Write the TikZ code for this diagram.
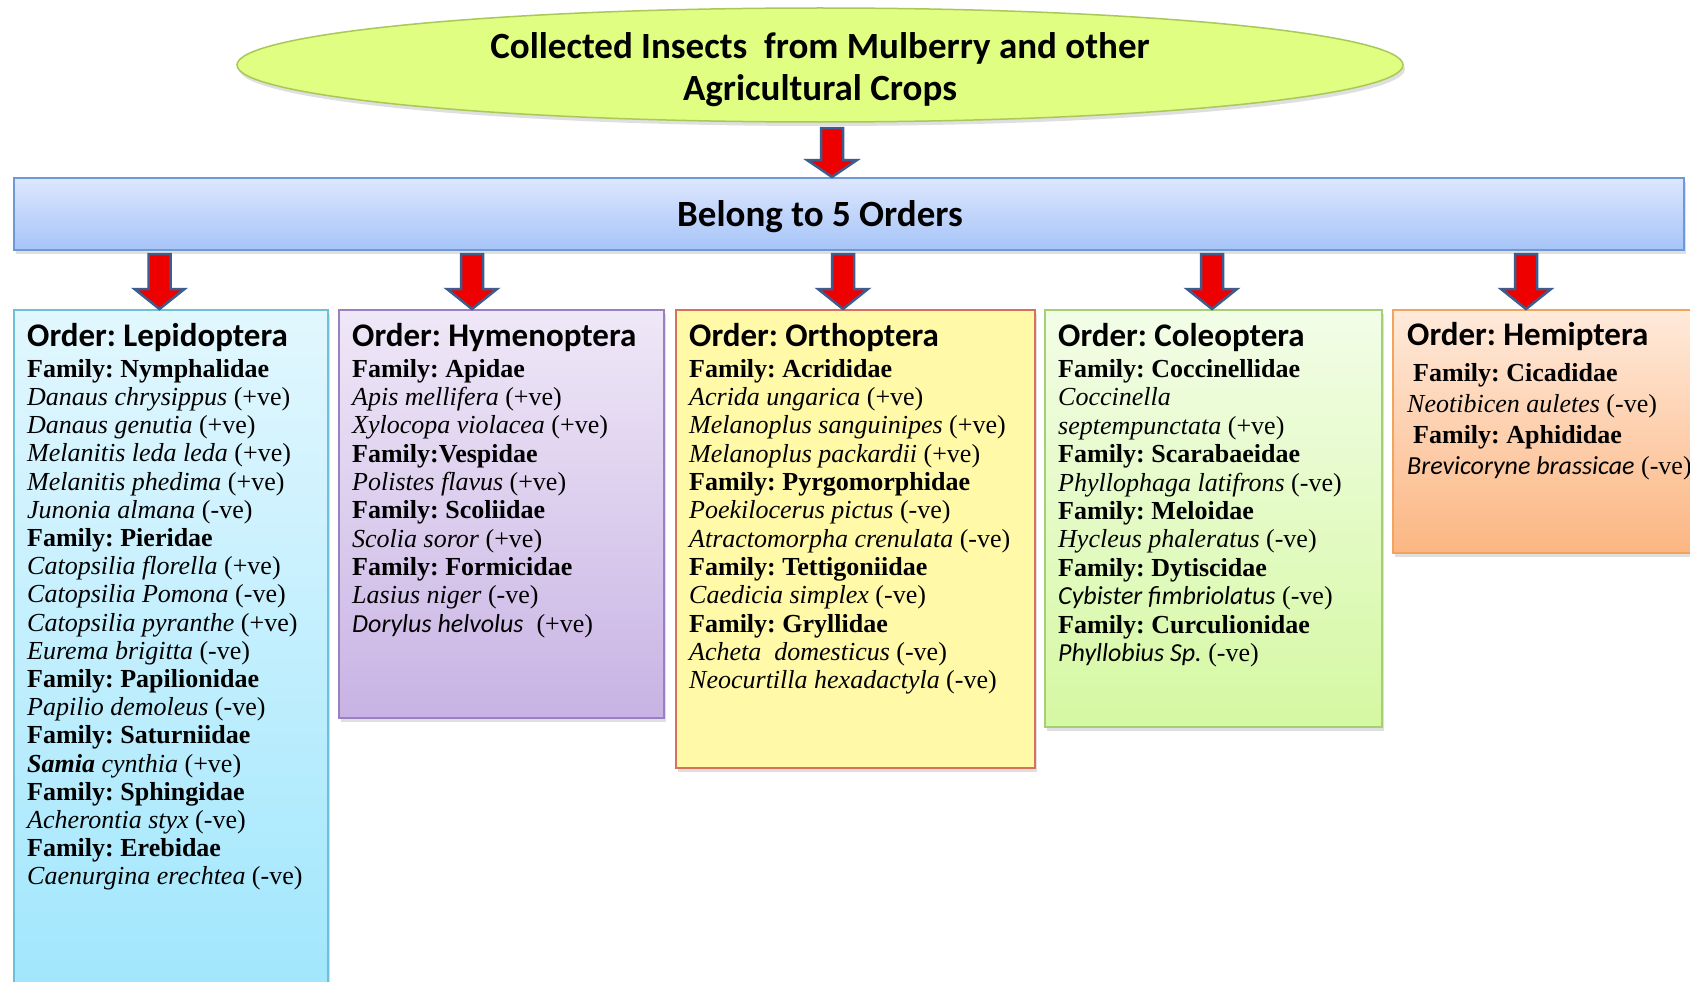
\documentclass[tikz,border=0pt]{standalone}
\usepackage{fontspec}
\setmainfont{Liberation Serif}
\newfontfamily\calibri{Carlito}
\usetikzlibrary{shapes.geometric,shadows,calc}
\frenchspacing

\definecolor{ellfill}{HTML}{E0FE82}
\definecolor{elldraw}{HTML}{A9C85A}
\definecolor{bltop}{HTML}{DDE7FE}
\definecolor{blbot}{HTML}{A6C4F8}
\definecolor{bldraw}{HTML}{6F99D6}
\definecolor{arrred}{HTML}{EE0000}
\definecolor{arrblue}{HTML}{3D5D8E}
\definecolor{lAtop}{HTML}{E2F7FE}
\definecolor{lAbot}{HTML}{9FE6FD}
\definecolor{lAdraw}{HTML}{6EBFD9}
\definecolor{hYtop}{HTML}{EFE8F7}
\definecolor{hYbot}{HTML}{C8B3E4}
\definecolor{hYdraw}{HTML}{9A80C0}
\definecolor{oRfill}{HTML}{FFF9A8}
\definecolor{oRdraw}{HTML}{D8705E}
\definecolor{cOtop}{HTML}{F2FDE7}
\definecolor{cObot}{HTML}{D5F8A2}
\definecolor{cOdraw}{HTML}{A5CF75}
\definecolor{hEtop}{HTML}{FFEADB}
\definecolor{hEbot}{HTML}{FBB682}
\definecolor{hEdraw}{HTML}{F2A35E}

\newcommand\ordline[1]{\hbox{\calibri\bfseries\fontsize{33}{33}\selectfont #1}}
\newcommand\famline[1]{\hbox{\fontsize{26}{28}\selectfont\bfseries #1}}
\newcommand\spline[1]{\hbox{\fontsize{26}{28}\selectfont #1}}
\newcommand\cit[1]{{\calibri\itshape #1}}
\newcommand\blockarrow[3]{\draw[blockarrow] let \p1=(#1), \p2=(#2) in
  (\x1-11pt,\y1) -- (\x1+11pt,\y1) -- (\x1+11pt,\y2+#3) -- (\x1+25pt,\y2+#3)
  -- (\x1,\y2) -- (\x1-25pt,\y2+#3) -- (\x1-11pt,\y2+#3) -- cycle;}

\tikzset{
  shad/.style={drop shadow={shadow xshift=2pt, shadow yshift=-4pt, opacity=0.25}},
  orderbox/.style={rectangle, anchor=north west, inner sep=0pt, line width=1.5pt, shad},
  blockarrow/.style={fill=arrred, draw=arrblue, line width=2.5pt, line join=miter},
  txt/.style={anchor=base west, inner sep=0pt, align=left},
  bigtxt/.style={anchor=base, inner sep=0pt, font=\calibri\bfseries\fontsize{37}{42}\selectfont}
}

\begin{document}
\begin{tikzpicture}[x=1pt,y=-1pt]
\clip (0,0) rectangle (1690,982);
\fill[white] (0,0) rectangle (1690,982);

% top ellipse
\node[ellipse, draw=elldraw, fill=ellfill, line width=1.5pt, minimum width=1166pt, minimum height=114pt, inner sep=0pt, shad] (ell) at (820,65) {};
\node[bigtxt] (title) at (820,59) {\vtop{\baselineskip=42pt\lineskiplimit=-100pt
  \hbox to 800pt{\hfil Collected Insects\ \ from Mulberry and other\hfil}
  \hbox to 800pt{\hfil Agricultural Crops\hfil}}};

% belong box
\node[orderbox, minimum width=1670pt, minimum height=72pt, top color=bltop, bottom color=blbot, draw=bldraw] (belong) at (13,177) {};
\node[bigtxt] (belongtxt) at (820,226) {Belong to 5 Orders};

% order boxes
\node[orderbox, minimum width=314pt, minimum height=700pt, top color=lAtop, bottom color=lAbot, draw=lAdraw] (lep) at (13,309) {};
\node[orderbox, minimum width=325pt, minimum height=408pt, top color=hYtop, bottom color=hYbot, draw=hYdraw] (hym) at (338,309) {};
\node[orderbox, minimum width=359pt, minimum height=458pt, fill=oRfill, draw=oRdraw] (ort) at (675,309) {};
\node[orderbox, minimum width=337pt, minimum height=417pt, top color=cOtop, bottom color=cObot, draw=cOdraw] (col) at (1044,309) {};
\node[orderbox, minimum width=320pt, minimum height=243pt, top color=hEtop, bottom color=hEbot, draw=hEdraw] (hem) at (1392,309) {};

% arrows
\coordinate (a0) at (832,128);
\coordinate (a1) at (159.5,254);
\coordinate (a2) at (472,254);
\coordinate (a3) at (843,254);
\coordinate (a4) at (1212,254);
\coordinate (a5) at (1526,254);
\blockarrow{a0}{a0 |- belong.north}{17pt}
\blockarrow{a1}{a1 |- lep.north}{20pt}
\blockarrow{a2}{a2 |- hym.north}{20pt}
\blockarrow{a3}{a3 |- ort.north}{20pt}
\blockarrow{a4}{a4 |- col.north}{20pt}
\blockarrow{a5}{a5 |- hem.north}{20pt}

% texts
\node[txt] (leptxt) at (27,346) {\vtop{\baselineskip=28.2pt\lineskiplimit=-100pt
  \ordline{Order: Lepidoptera}\vskip3pt
  \famline{Family: Nymphalidae}
  \spline{\textit{Danaus chrysippus} (+ve)}
  \spline{\textit{Danaus genutia} (+ve)}
  \spline{\textit{Melanitis leda leda} (+ve)}
  \spline{\textit{Melanitis phedima} (+ve)}
  \spline{\textit{Junonia almana} (-ve)}
  \famline{Family: Pieridae}
  \spline{\textit{Catopsilia florella} (+ve)}
  \spline{\textit{Catopsilia Pomona} (-ve)}
  \spline{\textit{Catopsilia pyranthe} (+ve)}
  \spline{\textit{Eurema brigitta} (-ve)}
  \famline{Family: Papilionidae}
  \spline{\textit{Papilio demoleus} (-ve)}
  \famline{Family: Saturniidae}
  \spline{\textbf{\textit{Samia}} \textit{cynthia} (+ve)}
  \famline{Family: Sphingidae}
  \spline{\textit{Acherontia styx} (-ve)}
  \famline{Family: Erebidae}
  \spline{\textit{Caenurgina erechtea} (-ve)}}};

\node[txt] (hymtxt) at (352,346) {\vtop{\baselineskip=28.3pt\lineskiplimit=-100pt
  \ordline{Order: Hymenoptera}\vskip3pt
  \famline{Family: Apidae}
  \spline{\textit{Apis mellifera} (+ve)}
  \spline{\textit{Xylocopa violacea} (+ve)}
  \famline{Family:Vespidae}
  \spline{\textit{Polistes flavus} (+ve)}
  \famline{Family: Scoliidae}
  \spline{\textit{Scolia soror} (+ve)}
  \famline{Family: Formicidae}
  \spline{\textit{Lasius niger} (-ve)}
  \spline{\cit{Dorylus helvolus}\ \ (+ve)}}};

\node[txt] (orttxt) at (689,346) {\vtop{\baselineskip=28.3pt\lineskiplimit=-100pt
  \ordline{Order: Orthoptera}\vskip3pt
  \famline{Family: Acrididae}
  \spline{\textit{Acrida ungarica} (+ve)}
  \spline{\textit{Melanoplus sanguinipes} (+ve)}
  \spline{\textit{Melanoplus packardii} (+ve)}
  \famline{Family: Pyrgomorphidae}
  \spline{\textit{Poekilocerus pictus} (-ve)}
  \spline{\textit{Atractomorpha crenulata} (-ve)}
  \famline{Family: Tettigoniidae}
  \spline{\textit{Caedicia simplex} (-ve)}
  \famline{Family: Gryllidae}
  \spline{\textit{Acheta\ \ domesticus} (-ve)}
  \spline{\textit{Neocurtilla hexadactyla} (-ve)}}};

\node[txt] (coltxt) at (1058,346) {\vtop{\baselineskip=28.4pt\lineskiplimit=-100pt
  \ordline{Order: Coleoptera}\vskip3pt
  \famline{Family: Coccinellidae}
  \spline{\textit{Coccinella}}
  \spline{\textit{septempunctata} (+ve)}
  \famline{Family: Scarabaeidae}
  \spline{\textit{Phyllophaga latifrons} (-ve)}
  \famline{Family: Meloidae}
  \spline{\textit{Hycleus phaleratus} (-ve)}
  \famline{Family: Dytiscidae}
  \spline{\cit{Cybister fimbriolatus} (-ve)}
  \famline{Family: Curculionidae}
  \spline{\cit{Phyllobius Sp.} (-ve)}}};

\node[txt] (hemtxt) at (1407,345) {\vtop{\baselineskip=31pt\lineskiplimit=-100pt
  \ordline{Order: Hemiptera}\vskip5pt
  \famline{\hspace{6pt}Family: Cicadidae}
  \spline{\textit{Neotibicen auletes} (-ve)}
  \famline{\hspace{6pt}Family: Aphididae}
  \spline{\cit{Brevicoryne brassicae} (-ve)}}};
\end{tikzpicture}
\end{document}
